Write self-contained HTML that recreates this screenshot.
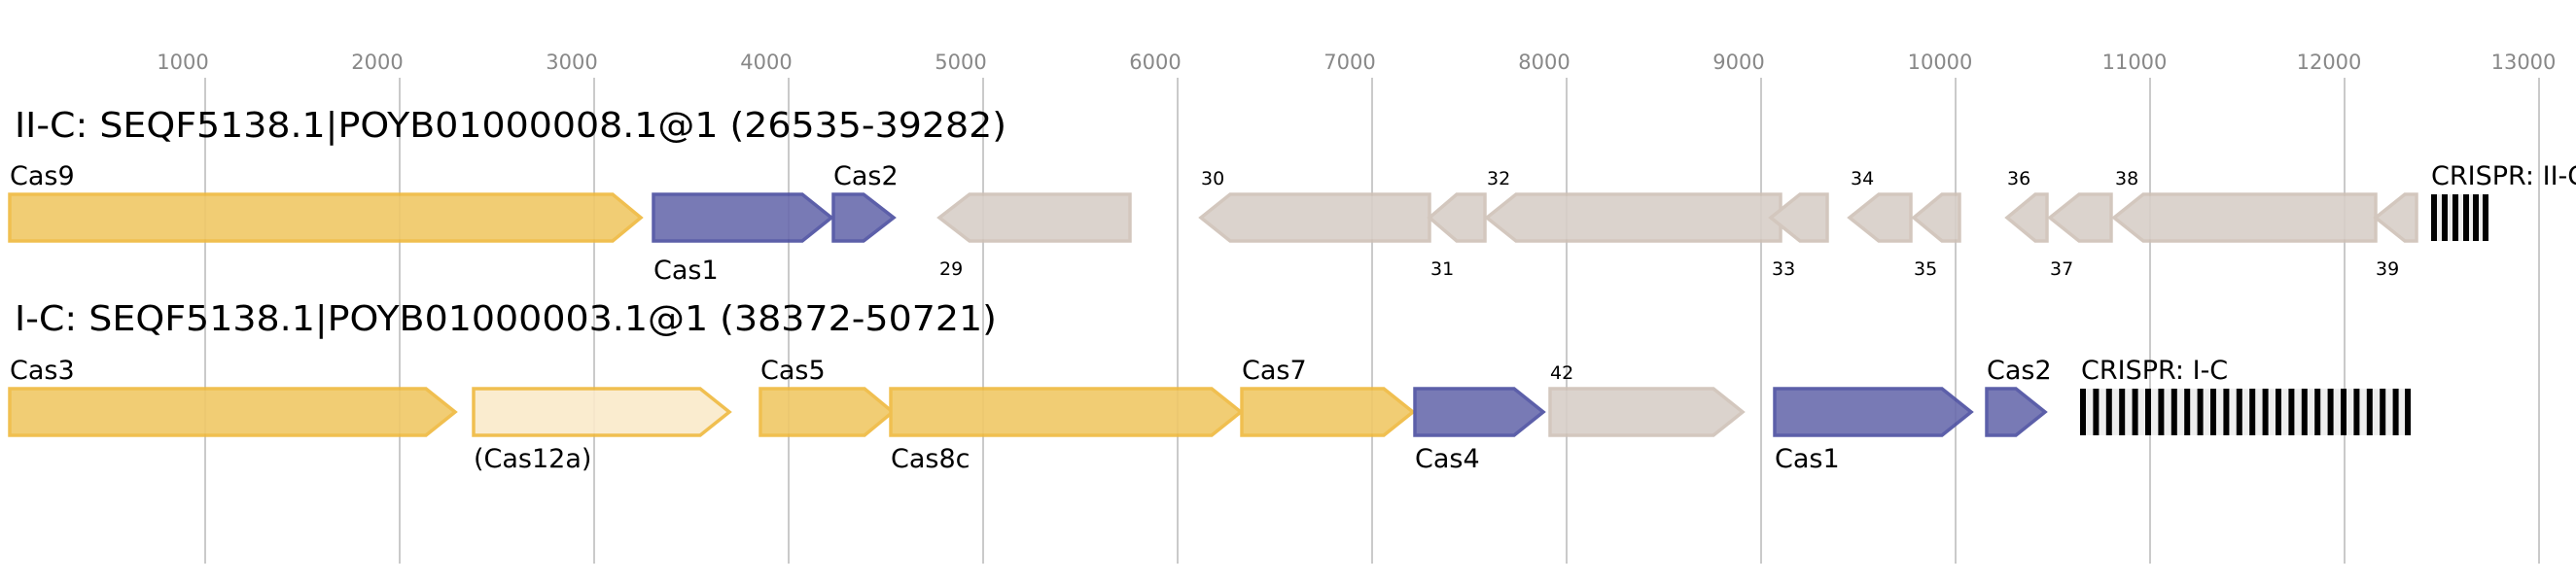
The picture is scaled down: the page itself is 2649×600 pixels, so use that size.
<!DOCTYPE html>
<html><head><meta charset="utf-8"><style>html,body{margin:0;padding:0;background:#fff}svg{display:block}</style></head>
<body>
<svg width="2649" height="600" viewBox="0 0 2649 600" xmlns="http://www.w3.org/2000/svg" font-family="DejaVu Sans, Liberation Sans, sans-serif">
<g stroke="#bdbdbd" stroke-width="1.6">
<line x1="211" y1="80" x2="211" y2="580"/><line x1="411" y1="80" x2="411" y2="580"/><line x1="611" y1="80" x2="611" y2="580"/><line x1="811" y1="80" x2="811" y2="580"/><line x1="1011" y1="80" x2="1011" y2="580"/><line x1="1211" y1="80" x2="1211" y2="580"/><line x1="1411" y1="80" x2="1411" y2="580"/><line x1="1611" y1="80" x2="1611" y2="580"/><line x1="1811" y1="80" x2="1811" y2="580"/><line x1="2011" y1="80" x2="2011" y2="580"/><line x1="2211" y1="80" x2="2211" y2="580"/><line x1="2411" y1="80" x2="2411" y2="580"/><line x1="2611" y1="80" x2="2611" y2="580"/>
</g>
<g fill="#888" font-size="21" text-anchor="middle">
<text x="188" y="71">1000</text><text x="388" y="71">2000</text><text x="588" y="71">3000</text><text x="788" y="71">4000</text><text x="988" y="71">5000</text><text x="1188" y="71">6000</text><text x="1388" y="71">7000</text><text x="1588" y="71">8000</text><text x="1788" y="71">9000</text><text x="1995" y="71">10000</text><text x="2195" y="71">11000</text><text x="2395" y="71">12000</text><text x="2595" y="71">13000</text>
</g>
<text x="15" y="141" font-size="36" textLength="1020" lengthAdjust="spacingAndGlyphs">II-C: SEQF5138.1|POYB01000008.1@1 (26535-39282)</text>
<text x="15" y="340" font-size="36" textLength="1010" lengthAdjust="spacingAndGlyphs">I-C: SEQF5138.1|POYB01000003.1@1 (38372-50721)</text>
<g stroke-width="3.5" opacity="0.9">
<polygon points="10,200 630,200 659,224 630,248 10,248" fill="#f0c866" stroke="#efb93e"/>
<polygon points="672,200 825,200 855,224 825,248 672,248" fill="#6a6cad" stroke="#4b4ea0"/>
<polygon points="857,200 888,200 919,224 888,248 857,248" fill="#6a6cad" stroke="#4b4ea0"/>
<g fill="#d8cfc8" stroke="#cfc2b7">
<polygon points="1162,200 997,200 966,224 997,248 1162,248"/>
<polygon points="1470,200 1265,200 1235,224 1265,248 1470,248"/>
<polygon points="1527,200 1498,200 1470,224 1498,248 1527,248"/>
<polygon points="1831,200 1559,200 1529,224 1559,248 1831,248"/>
<polygon points="1879,200 1851,200 1821,224 1851,248 1879,248"/>
<polygon points="1965,200 1932,200 1902,224 1932,248 1965,248"/>
<polygon points="2015,200 1997,200 1968,224 1997,248 2015,248"/>
<polygon points="2105,200 2093,200 2064,224 2093,248 2105,248"/>
<polygon points="2171,200 2138,200 2108,224 2138,248 2171,248"/>
<polygon points="2443,200 2204,200 2174,224 2204,248 2443,248"/>
<polygon points="2485,200 2473,200 2443,224 2473,248 2485,248"/>
</g>
<polygon points="10,400 438,400 468,424 438,448 10,448" fill="#f0c866" stroke="#efb93e"/>
<polygon points="487,400 720,400 750,424 720,448 487,448" fill="#faeaca" stroke="#efb93e"/>
<polygon points="782,400 889,400 918,424 889,448 782,448" fill="#f0c866" stroke="#efb93e"/>
<polygon points="916,400 1246,400 1276,424 1246,448 916,448" fill="#f0c866" stroke="#efb93e"/>
<polygon points="1277,400 1423,400 1453,424 1423,448 1277,448" fill="#f0c866" stroke="#efb93e"/>
<polygon points="1455,400 1557,400 1587,424 1557,448 1455,448" fill="#6a6cad" stroke="#4b4ea0"/>
<polygon points="1594,400 1762,400 1792,424 1762,448 1594,448" fill="#d8cfc8" stroke="#cfc2b7"/>
<polygon points="1825,400 1997,400 2027,424 1997,448 1825,448" fill="#6a6cad" stroke="#4b4ea0"/>
<polygon points="2043,400 2073,400 2103,424 2073,448 2043,448" fill="#6a6cad" stroke="#4b4ea0"/>
</g>
<rect x="2500" y="200" width="59" height="48" fill="#eee"/>
<g fill="#000">
<rect x="2500" y="200" width="6" height="48"/><rect x="2511" y="200" width="6" height="48"/><rect x="2522" y="200" width="6" height="48"/><rect x="2533" y="200" width="6" height="48"/><rect x="2543" y="200" width="6" height="48"/><rect x="2553" y="200" width="6" height="48"/>
</g>
<rect x="2139" y="400" width="340" height="48" fill="#eee"/>
<g fill="#000">
<rect x="2139" y="400" width="6" height="48"/><rect x="2152.4" y="400" width="6" height="48"/><rect x="2165.8" y="400" width="6" height="48"/><rect x="2179.2" y="400" width="6" height="48"/><rect x="2192.6" y="400" width="6" height="48"/><rect x="2206" y="400" width="6" height="48"/><rect x="2219.4" y="400" width="6" height="48"/><rect x="2232.8" y="400" width="6" height="48"/><rect x="2246.2" y="400" width="6" height="48"/><rect x="2259.6" y="400" width="6" height="48"/><rect x="2273" y="400" width="6" height="48"/><rect x="2286.4" y="400" width="6" height="48"/><rect x="2299.8" y="400" width="6" height="48"/><rect x="2313.2" y="400" width="6" height="48"/><rect x="2326.6" y="400" width="6" height="48"/><rect x="2340" y="400" width="6" height="48"/><rect x="2353.4" y="400" width="6" height="48"/><rect x="2366.8" y="400" width="6" height="48"/><rect x="2380.2" y="400" width="6" height="48"/><rect x="2393.6" y="400" width="6" height="48"/><rect x="2407" y="400" width="6" height="48"/><rect x="2420.4" y="400" width="6" height="48"/><rect x="2433.8" y="400" width="6" height="48"/><rect x="2447.2" y="400" width="6" height="48"/><rect x="2460.6" y="400" width="6" height="48"/><rect x="2473" y="400" width="6" height="48"/>
</g>
<g font-size="27" fill="#000">
<text x="10" y="190">Cas9</text><text x="672" y="287">Cas1</text><text x="857" y="190">Cas2</text>
<text x="2500" y="190">CRISPR: II-C</text>
<text x="10" y="390">Cas3</text><text x="487" y="481">(Cas12a)</text><text x="782" y="390">Cas5</text><text x="916" y="481">Cas8c</text><text x="1277" y="390">Cas7</text><text x="1455" y="481">Cas4</text><text x="1825" y="481">Cas1</text><text x="2043" y="390">Cas2</text><text x="2140" y="390">CRISPR: I-C</text>
</g>
<g font-size="19" fill="#000">
<text x="966" y="283">29</text><text x="1235" y="190">30</text><text x="1471" y="283">31</text><text x="1529" y="190">32</text><text x="1822" y="283">33</text><text x="1903" y="190">34</text><text x="1968" y="283">35</text><text x="2064" y="190">36</text><text x="2108" y="283">37</text><text x="2175" y="190">38</text><text x="2443" y="283">39</text><text x="1594" y="390">42</text>
</g>
</svg>
</body></html>
